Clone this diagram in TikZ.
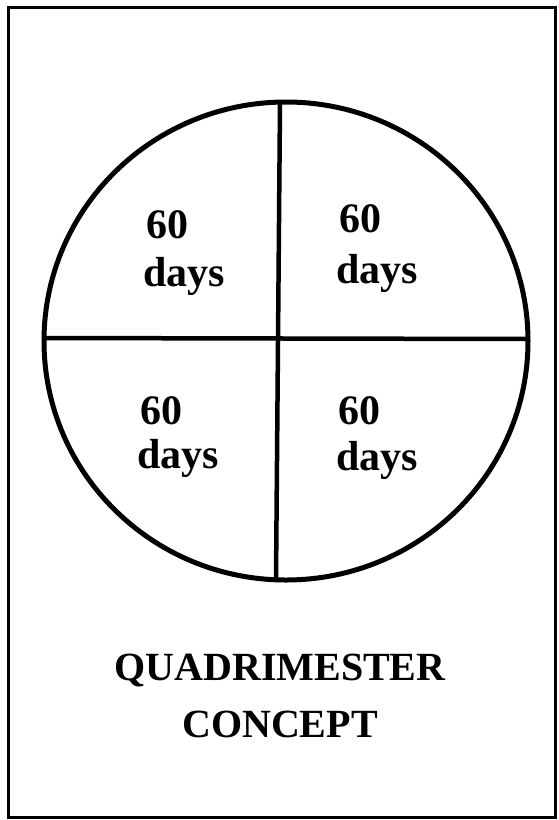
\documentclass[tikz,border=0pt]{standalone}
\usepackage{fontspec}
\setmainfont{Liberation Serif}
\usetikzlibrary{shapes.geometric}
\begin{document}
\begin{tikzpicture}[x=1pt,y=-1pt,
  lbl/.style={font=\fontsize{42}{44}\selectfont\bfseries, inner sep=0pt, anchor=base west},
  ttl/.style={font=\fontsize{40}{44}\selectfont\bfseries, inner sep=0pt, anchor=base},
  frame/.style={draw=black, line width=3pt},
  ring/.style={draw=black, line width=5pt},
  divider/.style={draw=black, line width=4.5pt}]
\useasboundingbox (0,0) rectangle (559,820);
\draw[frame] (8,7) rectangle (555,817);
\node[ring, ellipse, minimum width=484pt, minimum height=478pt, inner sep=0pt] (circ) at (286,341) {};
\coordinate (vtop) at (280,103);
\coordinate (vbot) at (276,580);
\coordinate (hl) at (44,338);
\coordinate (hr) at (528,339);
\draw[divider] (vtop) -- (vbot);
\draw[divider] (hl) -- (hr);
\node[lbl] (tl60) at (146,238) {60};
\node[lbl] (tldays) at (143,286) {days};
\node[lbl] (tr60) at (339,232) {60};
\node[lbl] (trdays) at (336,283) {days};
\node[lbl] (bl60) at (140,424) {60};
\node[lbl] (bldays) at (137,468) {days};
\node[lbl] (br60) at (338,424) {60};
\node[lbl] (brdays) at (336,470) {days};
\node[ttl] (t1) at (280,680) {QUADRIMESTER};
\node[ttl] (t2) at (280,737) {CONCEPT};
\end{tikzpicture}
\end{document}
